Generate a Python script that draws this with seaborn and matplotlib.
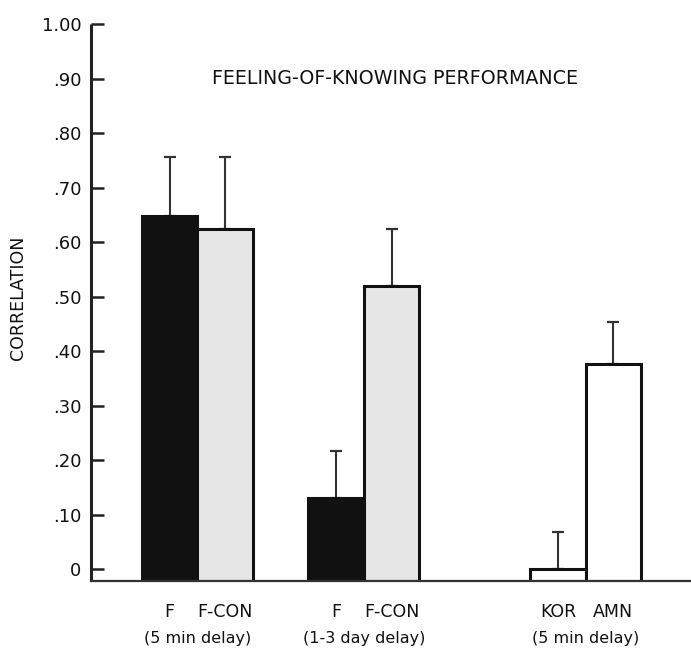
import matplotlib
matplotlib.use("Agg")
import matplotlib.pyplot as plt
import matplotlib.transforms as mtransforms
import seaborn as sns
import pandas as pd

# ---- data ----
bar_labels = ["F", "F-CON", "F", "F-CON", "KOR", "AMN"]
slots = ["s0", "s1", "s3", "s4", "s7", "s8"]
conditions = ["patient", "control", "patient", "control", "kor", "amn"]
values = [0.648, 0.624, 0.130, 0.519, 0.0, 0.376]
errors = [0.108, 0.132, 0.087, 0.105, 0.068, 0.077]
groups = ["(5 min delay)", "(1-3 day delay)", "(5 min delay)"]
group_members = [["s0", "s1"], ["s3", "s4"], ["s7", "s8"]]
slot_order = ["s0", "s1", "s2", "s3", "s4", "s5", "s6", "s7", "s8"]
yticks = [0, 0.1, 0.2, 0.3, 0.4, 0.5, 0.6, 0.7, 0.8, 0.9, 1.0]
ytick_labels = ["0", ".10", ".20", ".30", ".40", ".50", ".60", ".70", ".80", ".90", "1.00"]
title = "FEELING-OF-KNOWING PERFORMANCE"
ylabel = "CORRELATION"

palette = {"patient": "#111111", "control": "#e6e6e6", "kor": "white", "amn": "white"}

df = pd.DataFrame({"slot": slots, "value": values, "cond": conditions})

sns.set_style("white")
plt.rcParams["font.family"] = ["DejaVu Sans"]

fig = plt.figure(figsize=(6.91, 6.54), dpi=100)
ax = fig.add_axes([91 / 691, 1 - 581 / 654, 600 / 691, 557 / 654])

sns.barplot(data=df, x="slot", y="value", hue="cond", order=slot_order,
            palette=palette, dodge=False, width=1.0, saturation=1,
            edgecolor="#111111", linewidth=2.2, legend=False, errorbar=None, ax=ax)

base = -0.022
for p in ax.patches:
    h = p.get_height()
    p.set_y(base)
    p.set_height(h - base)

pos = [slot_order.index(s) for s in slots]
ax.errorbar(pos, values, yerr=[[0] * len(values), errors], fmt="none",
            ecolor="#333333", elinewidth=1.5, capsize=4.5, capthick=1.6, zorder=0.5)

ax.set_ylim(base, 1.0)
ax.set_xlim(-1.42, 9.40)

ax.set_yticks(yticks, ytick_labels)
ax.tick_params(axis="y", direction="in", length=9, width=1.8, color="#222222",
               labelsize=13, pad=7, labelcolor="#111111", left=True)
ax.set_xticks(pos, bar_labels)
ax.tick_params(axis="x", length=0, labelsize=12.5, pad=16, labelcolor="#111111")

for side in ["top", "right"]:
    ax.spines[side].set_visible(False)
ax.spines["left"].set_linewidth(2.2)
ax.spines["left"].set_color("#222222")
ax.spines["left"].set_capstyle("butt")
ax.spines["bottom"].set_linewidth(1.6)
ax.spines["bottom"].set_color("#333333")

ax.set_xlabel("")
ax.set_ylabel("")

trans = mtransforms.blended_transform_factory(ax.transData, fig.transFigure)
for label, members in zip(groups, group_members):
    cx = sum(slot_order.index(m) for m in members) / len(members)
    ax.text(cx, 1 - 638 / 654, label, transform=trans, ha="center", va="center",
            fontsize=11.5, color="#111111")

ax.text(0.507, 0.903, title, transform=ax.transAxes, ha="center", va="center",
        fontsize=13.7, color="#111111")
fig.text(18 / 691, 1 - 298 / 654, ylabel, rotation=90, ha="center", va="center",
         fontsize=12.5, color="#111111")

fig.savefig("out.png", dpi=100)
